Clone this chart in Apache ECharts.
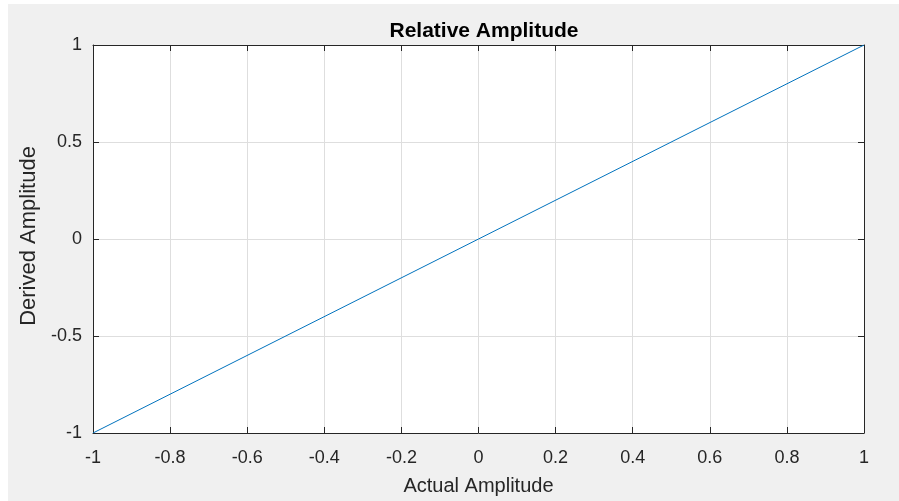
<!DOCTYPE html>
<html><head><meta charset="utf-8">
<script src="https://cdn.jsdelivr.net/npm/echarts@6/dist/echarts.min.js"></script>
<style>html,body{margin:0;padding:0;background:#f0f0f0}#c{width:899px;height:501px}</style>
</head><body><div id="c"></div>
<script>
const titleText = "Relative Amplitude";
const xName = "Actual Amplitude";
const yName = "Derived Amplitude";
const actual = [-1, 1];
const derived = [-1, 1];
const xTicks = [-1, -0.8, -0.6, -0.4, -0.2, 0, 0.2, 0.4, 0.6, 0.8, 1];
const yTicks = [-1, -0.5, 0, 0.5, 1];

const font = "Liberation Sans, Arial, Helvetica, sans-serif";
const chart = echarts.init(document.getElementById('c'));
const axisLine = {show: true, onZero: false, lineStyle: {color: '#262626', width: 1}};
const tick = {show: true, inside: true, length: 6, lineStyle: {color: '#262626', width: 1}};
const split = {show: true, lineStyle: {color: '#dedede', width: 1}};
const fmt = ticks => v => { const t = ticks.find(x => Math.abs(x - v) < 1e-9); return t === undefined ? '' : String(t); };
chart.setOption({
  backgroundColor: '#f0f0f0',
  animation: false,
  graphic: [
    {type: 'rect', shape: {x: 0, y: 0, width: 8, height: 501}, style: {fill: '#ffffff'}, z: -10, silent: true},
    {type: 'rect', shape: {x: 0, y: 0, width: 899, height: 4}, style: {fill: '#ffffff'}, z: -10, silent: true}
  ],
  title: {text: titleText, left: 479, top: 16, textAlign: 'center',
    textStyle: {fontFamily: font, fontSize: 21, fontWeight: 'bold', color: '#000'}},
  grid: {left: 93, right: 35, top: 45, bottom: 67, backgroundColor: '#fff', show: true, borderWidth: 0},
  xAxis: [{
    type: 'value', min: -1, max: 1, interval: 0.2, position: 'bottom',
    name: xName, nameLocation: 'middle', nameGap: 43,
    nameTextStyle: {fontFamily: font, fontSize: 20, color: '#262626'},
    axisLine, axisTick: tick, splitLine: split,
    axisLabel: {fontFamily: font, fontSize: 18, color: '#262626', margin: 16, formatter: fmt(xTicks)}
  }, {
    type: 'value', min: -1, max: 1, interval: 0.2, position: 'top',
    axisLine, axisTick: tick, splitLine: {show: false}, axisLabel: {show: false}
  }],
  yAxis: [{
    type: 'value', min: -1, max: 1, interval: 0.5, position: 'left',
    name: yName, nameLocation: 'middle', nameGap: 50,
    nameTextStyle: {fontFamily: font, fontSize: 22, color: '#262626', padding: [0, 0, 0, 6]},
    axisLine, axisTick: tick, splitLine: split,
    axisLabel: {fontFamily: font, fontSize: 18, color: '#262626', margin: 11, formatter: fmt(yTicks)}
  }, {
    type: 'value', min: -1, max: 1, interval: 0.5, position: 'right',
    axisLine, axisTick: tick, splitLine: {show: false}, axisLabel: {show: false}
  }],
  series: [{
    type: 'line', xAxisIndex: 0, yAxisIndex: 0,
    data: actual.map((x, i) => [x, derived[i]]),
    showSymbol: false, symbol: 'none',
    lineStyle: {color: '#0072BD', width: 1}
  }]
});
</script></body></html>
